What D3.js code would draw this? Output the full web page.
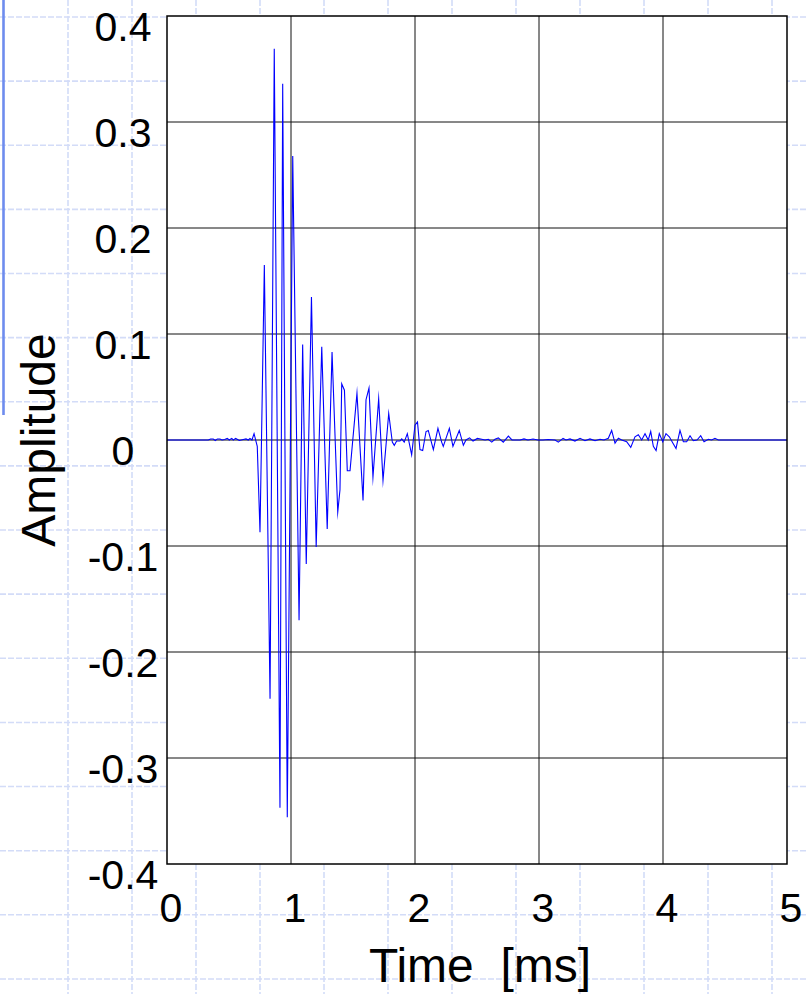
<!DOCTYPE html>
<html><head><meta charset="utf-8">
<script src="https://cdn.jsdelivr.net/npm/d3@7/dist/d3.min.js"></script>
<style>body{margin:0;background:#fff}svg{display:block}</style></head>
<body><svg id="c" width="806" height="994"></svg>
<script>
// ---- data ----
const timeMs = [0,0.333,0.352,0.373,0.390,0.406,0.427,0.444,0.465,0.486,0.502,0.522,0.535,0.554,0.583,0.615,0.637,0.656,0.669,0.685,
0.702,0.728,0.750,0.785,0.831,0.865,0.911,0.933,0.970,1.014,1.065,1.094,1.123,1.165,1.203,1.248,1.292,1.331,1.377,1.395,
1.409,1.431,1.454,1.476,1.532,1.581,1.605,1.629,1.661,1.707,1.742,1.788,1.817,1.833,1.852,1.879,1.893,1.913,1.938,1.973,
2.000,2.020,2.040,2.062,2.089,2.107,2.148,2.185,2.215,2.228,2.277,2.306,2.357,2.390,2.411,2.440,2.468,2.503,2.538,2.565,
2.591,2.619,2.645,2.672,2.712,2.753,2.782,2.847,2.879,2.911,2.952,2.992,3.032,3.073,3.129,3.156,3.194,3.218,3.250,3.290,
3.331,3.371,3.411,3.452,3.492,3.524,3.559,3.586,3.613,3.640,3.667,3.707,3.740,3.774,3.801,3.828,3.855,3.881,3.901,3.922,
3.944,3.970,3.998,4.024,4.051,4.078,4.105,4.137,4.164,4.191,4.218,4.244,4.274,4.304,4.331,4.365,4.393,4.419,4.446,5.0];
const amplitude = [0,0,0.001,0.001,-0.0005,0.001,0.001,0,0.0005,0.0015,0,0.0015,0,0.0015,-0.0005,0.0005,0.001,0,0.0015,0,
0.006,-0.006,-0.087,0.165,-0.244,0.369,-0.347,0.336,-0.356,0.268,-0.170,0.090,-0.117,0.135,-0.101,0.088,-0.084,0.083,-0.068,-0.047,
0.053,0.047,-0.029,-0.029,0.044,-0.057,0.038,0.049,-0.035,0.039,-0.038,0.025,-0.002,-0.005,-0.001,-0.001,0.001,-0.002,0.006,-0.014,
0.014,0.017,-0.009,-0.010,0.008,0.009,-0.009,0.011,-0.002,-0.006,0.011,-0.006,0.009,-0.005,0,0.002,-0.001,0.0015,0.0007,0,
0.0007,-0.002,0.0007,0.002,-0.002,0.0036,0,0,0.001,0,0.001,0,0,0.0005,0,-0.002,0.0015,0,0.001,-0.001,
0.0016,-0.0007,0.001,-0.0007,0.0007,0,0.0016,0.009,-0.003,0.0016,0,-0.0016,-0.007,0.003,0.005,0,0.006,0,0.008,-0.006,
-0.010,0.006,-0.0016,0.006,0.003,-0.0025,-0.008,0.009,-0.0016,-0.0016,0.004,-0.0007,0,0.004,-0.0016,0.0007,0,0.0016,0,0];
const xTicks = [0,1,2,3,4,5];
const xTickLabels = ["0","1","2","3","4","5"];
const yTicks = [0.4,0.3,0.2,0.1,0,-0.1,-0.2,-0.3,-0.4];
const yTickLabels = ["0.4","0.3","0.2","0.1","0","-0.1","-0.2","-0.3","-0.4"];
const xTitle = "Time  [ms]";
const yTitle = "Amplitude";

// ---- layout ----
const W = 806, H = 994;
const L = 167, R = 787, T = 16, B = 864;
const FONT = "'Liberation Sans', Arial, Helvetica, sans-serif";
const svg = d3.select("#c");

// slide-style dashed background grid
const bg = svg.append("g");
bg.append("rect").attr("width", W).attr("height", H).attr("fill", "#fff");
bg.selectAll("line.v").data(d3.range(68, W, 64)).join("line")
  .attr("x1", d => d).attr("x2", d => d).attr("y1", 0).attr("y2", H)
  .attr("stroke", "#d3dcf8").attr("stroke-width", 1.6).attr("stroke-dasharray", "6,2");
bg.selectAll("line.h").data(d3.range(17, H, 64.13)).join("line")
  .attr("y1", d => d).attr("y2", d => d).attr("x1", 0).attr("x2", W)
  .attr("stroke", "#d3dcf8").attr("stroke-width", 1.6).attr("stroke-dasharray", "6,2");
bg.append("line").attr("x1", 3.5).attr("x2", 3.5).attr("y1", 0).attr("y2", 415)
  .attr("stroke", "#6e8cee").attr("stroke-width", 2.6);

const x = d3.scaleLinear().domain([0, 5]).range([L, R]);
const y = d3.scaleLinear().domain([-0.4, 0.4]).range([B, T]);

// plot background
svg.append("rect").attr("x", L).attr("y", T).attr("width", R - L).attr("height", B - T).attr("fill", "#fff");

// grid
svg.append("g").selectAll("line").data(xTicks.slice(1, -1)).join("line")
  .attr("x1", d => x(d)).attr("x2", d => x(d)).attr("y1", T).attr("y2", B)
  .attr("stroke", "#111").attr("stroke-width", 1);
svg.append("g").selectAll("line").data(yTicks.slice(1, -1)).join("line")
  .attr("y1", d => y(d)).attr("y2", d => y(d)).attr("x1", L).attr("x2", R)
  .attr("stroke", "#111").attr("stroke-width", 1);

// signal
const line = d3.line().x((d, i) => x(timeMs[i])).y(d => y(d));
svg.append("path").datum(amplitude).attr("d", line)
  .attr("fill", "none").attr("stroke", "#0000ff").attr("stroke-width", 1.1)
  .attr("stroke-linejoin", "miter").attr("stroke-miterlimit", 20);

// frame
svg.append("rect").attr("x", L).attr("y", T).attr("width", R - L).attr("height", B - T)
  .attr("fill", "none").attr("stroke", "#000").attr("stroke-width", 1.5);

// tick labels
svg.append("g").selectAll("text").data(yTicks).join("text")
  .attr("x", 123).attr("y", d => y(d) + 25)
  .attr("text-anchor", "middle").attr("font-family", FONT).attr("font-size", 41)
  .attr("fill", "#000").text((d, i) => yTickLabels[i]);
svg.append("g").selectAll("text").data(xTicks).join("text")
  .attr("x", d => x(d) + 4).attr("y", 922)
  .attr("text-anchor", "middle").attr("font-family", FONT).attr("font-size", 41)
  .attr("fill", "#000").text((d, i) => xTickLabels[i]);

// axis titles
svg.append("text").attr("transform", `translate(55,${y(0)}) rotate(-90)`)
  .attr("text-anchor", "middle").attr("font-family", FONT).attr("font-size", 48)
  .attr("fill", "#000").text(yTitle);
svg.append("text").attr("x", 480).attr("y", 982).style("white-space", "pre")
  .attr("text-anchor", "middle").attr("font-family", FONT).attr("font-size", 48)
  .attr("fill", "#000").text(xTitle);
</script></body></html>
